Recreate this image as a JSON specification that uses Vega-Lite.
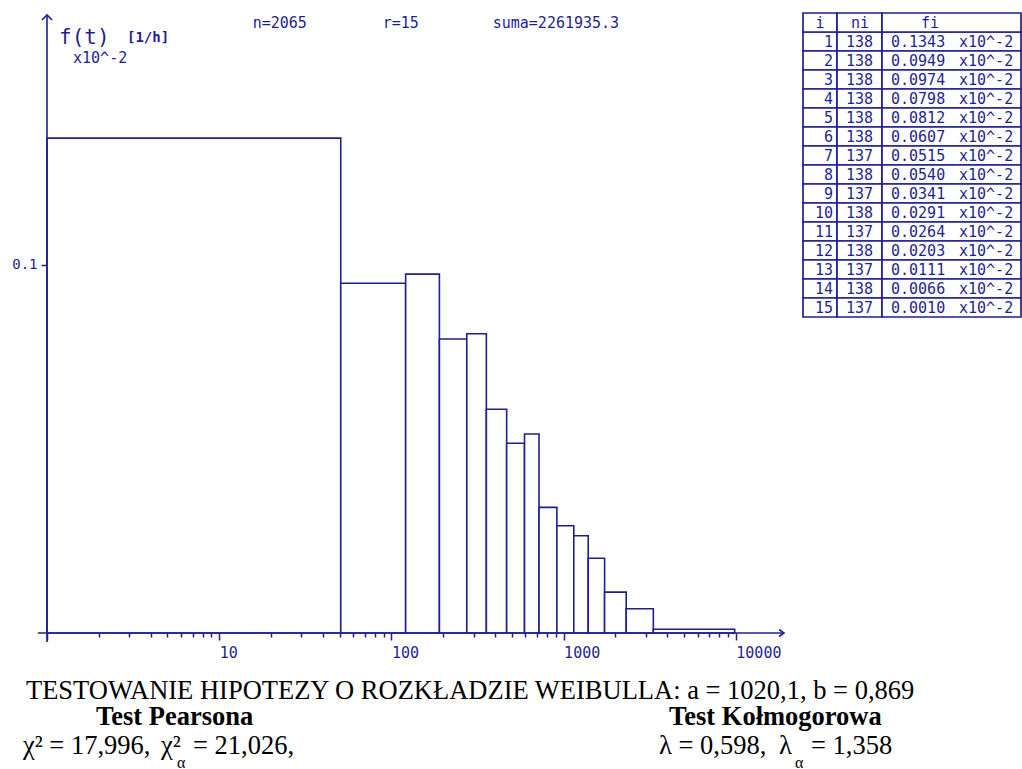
{
  "$schema": "https://vega.github.io/schema/vega-lite/v6.json",
  "background": "white",
  "padding": {"left": 11, "top": 11, "right": 0, "bottom": 0},
  "bounds": "flush",
  "spacing": 19,
  "config": {"view": {"stroke": null}},
  "datasets": {
    "bins": [
      {"i": 1, "ni": 138, "fi": 0.1343, "t0": 1, "t1": 50.8},
      {"i": 2, "ni": 138, "fi": 0.0949, "t0": 50.8, "t1": 121},
      {"i": 3, "ni": 138, "fi": 0.0974, "t0": 121, "t1": 190},
      {"i": 4, "ni": 138, "fi": 0.0798, "t0": 190, "t1": 274},
      {"i": 5, "ni": 138, "fi": 0.0812, "t0": 274, "t1": 356},
      {"i": 6, "ni": 138, "fi": 0.0607, "t0": 356, "t1": 467},
      {"i": 7, "ni": 137, "fi": 0.0515, "t0": 467, "t1": 593},
      {"i": 8, "ni": 138, "fi": 0.0540, "t0": 593, "t1": 720},
      {"i": 9, "ni": 137, "fi": 0.0341, "t0": 720, "t1": 914},
      {"i": 10, "ni": 138, "fi": 0.0291, "t0": 914, "t1": 1146},
      {"i": 11, "ni": 137, "fi": 0.0264, "t0": 1146, "t1": 1390},
      {"i": 12, "ni": 138, "fi": 0.0203, "t0": 1390, "t1": 1730},
      {"i": 13, "ni": 137, "fi": 0.0111, "t0": 1730, "t1": 2310},
      {"i": 14, "ni": 138, "fi": 0.0066, "t0": 2310, "t1": 3320},
      {"i": 15, "ni": 137, "fi": 0.0010, "t0": 3320, "t1": 9850}
    ]
  },
  "hconcat": [
    {
      "width": 737,
      "height": 620,
      "data": {"name": "bins"},
      "layer": [
        {
          "mark": {"type": "rect", "fill": "white", "stroke": "#1f1f93", "strokeWidth": 1.6},
          "encoding": {
            "x": {
              "field": "t0", "type": "quantitative",
              "scale": {"type": "log", "domain": [1, 19050], "nice": false},
              "axis": {
                "values": [1,2,3,4,5,6,7,8,9,10,20,30,40,50,60,70,80,90,100,200,300,400,500,600,700,800,900,1000,2000,3000,4000,5000,6000,7000,8000,9000,10000],
                "domain": false, "grid": false, "title": null,
                "tickColor": "#1f1f93", "tickWidth": 1.5,
                "tickSize": {"condition": {"test": "indexof([1,10,100,1000,10000], datum.value) >= 0", "value": 7}, "value": 4},
                "labelExpr": "indexof([10,100,1000,10000], datum.value) >= 0 ? format(datum.value, 'd') : ''",
                "labelAlign": "left", "labelBaseline": "top", "labelPadding": 5,
                "labelFont": "DejaVu Sans Mono", "labelFontSize": 15, "labelColor": "#1f1f93",
                "labelFlush": false, "labelOverlap": false, "labelBound": false
              }
            },
            "x2": {"field": "t1"},
            "y": {
              "field": "fi", "type": "quantitative",
              "scale": {"domain": [0, 0.16825], "nice": false, "zero": false},
              "axis": {
                "values": [0.1], "format": ".1f",
                "domain": false, "grid": false, "title": null,
                "tickColor": "#1f1f93", "tickWidth": 1.5, "tickSize": 6,
                "labelPadding": 4, "labelFont": "DejaVu Sans Mono", "labelFontSize": 14, "labelColor": "#1f1f93"
              }
            },
            "y2": {"datum": 0}
          }
        },
        {
          "data": {"values": [{}]},
          "mark": {"type": "rule", "stroke": "#1f1f93", "strokeWidth": 1.6},
          "encoding": {"x": {"datum": 0.886}, "x2": {"datum": 19050}, "y": {"datum": 0}}
        },
        {
          "data": {"values": [{}]},
          "mark": {"type": "rule", "stroke": "#1f1f93", "strokeWidth": 1.6},
          "encoding": {"x": {"datum": 1}, "y": {"datum": -0.00244}, "y2": {"datum": 0.16771}}
        },
        {
          "data": {"values": [{}]},
          "mark": {"type": "point", "shape": "M-1,1L0,0L1,1", "size": 100, "filled": false, "stroke": "#1f1f93", "strokeWidth": 1.6, "opacity": 1},
          "encoding": {"x": {"datum": 1}, "y": {"datum": 0.16771}}
        },
        {
          "data": {"values": [{}]},
          "mark": {"type": "point", "shape": "M-1,-0.7L0,0L-1,0.7", "size": 100, "filled": false, "stroke": "#1f1f93", "strokeWidth": 1.6, "opacity": 1},
          "encoding": {"x": {"datum": 19050}, "y": {"datum": 0}}
        },
        {
          "data": {"values": [{}]},
          "mark": {"type": "text", "align": "left", "baseline": "middle", "font": "DejaVu Sans Mono", "fontSize": 21, "color": "#1f1f93"},
          "encoding": {"x": {"datum": 1.174}, "y": {"datum": 0.16147}, "text": {"value": "f(t)"}}
        },
        {
          "data": {"values": [{}]},
          "mark": {"type": "text", "align": "left", "baseline": "middle", "font": "DejaVu Sans Mono", "fontSize": 14, "fontWeight": "bold", "color": "#1f1f93"},
          "encoding": {"x": {"datum": 2.914}, "y": {"datum": 0.16147}, "text": {"value": "[1/h]"}}
        },
        {
          "data": {"values": [{}]},
          "mark": {"type": "text", "align": "left", "baseline": "middle", "font": "DejaVu Sans Mono", "fontSize": 15, "color": "#1f1f93"},
          "encoding": {"x": {"datum": 1.416}, "y": {"datum": 0.15612}, "text": {"value": "x10^-2"}}
        },
        {
          "data": {"values": [{}]},
          "mark": {"type": "text", "align": "left", "baseline": "middle", "font": "DejaVu Sans Mono", "fontSize": 15, "color": "#1f1f93"},
          "encoding": {"x": {"datum": 15.65}, "y": {"datum": 0.16562}, "text": {"value": "n=2065"}}
        },
        {
          "data": {"values": [{}]},
          "mark": {"type": "text", "align": "left", "baseline": "middle", "font": "DejaVu Sans Mono", "fontSize": 15, "color": "#1f1f93"},
          "encoding": {"x": {"datum": 89.0}, "y": {"datum": 0.16562}, "text": {"value": "r=15"}}
        },
        {
          "data": {"values": [{}]},
          "mark": {"type": "text", "align": "left", "baseline": "middle", "font": "DejaVu Sans Mono", "fontSize": 15, "color": "#1f1f93"},
          "encoding": {"x": {"datum": 387.6}, "y": {"datum": 0.16562}, "text": {"value": "suma=2261935.3"}}
        },
        {
          "data": {"values": [{}]},
          "mark": {"type": "text", "align": "left", "baseline": "middle", "font": "Liberation Serif", "fontSize": 26.5, "color": "black"},
          "encoding": {"x": {"datum": 0.755}, "y": {"datum": -0.01574}, "text": {"value": "TESTOWANIE HIPOTEZY O ROZKŁADZIE WEIBULLA: a = 1020,1, b = 0,869"}}
        },
        {
          "data": {"values": [{}]},
          "mark": {"type": "text", "align": "left", "baseline": "middle", "font": "Liberation Serif", "fontSize": 26.5, "fontWeight": "bold", "color": "black"},
          "encoding": {"x": {"datum": 1.926}, "y": {"datum": -0.0228}, "text": {"value": "Test Pearsona"}}
        },
        {
          "data": {"values": [{}]},
          "mark": {"type": "text", "align": "left", "baseline": "middle", "font": "Liberation Serif", "fontSize": 26.5, "fontWeight": "bold", "color": "black"},
          "encoding": {"x": {"datum": 4093}, "y": {"datum": -0.0228}, "text": {"value": "Test Kołmogorowa"}}
        },
        {
          "data": {"values": [{}]},
          "mark": {"type": "text", "align": "left", "baseline": "middle", "font": "Liberation Serif", "fontSize": 26.5, "color": "black"},
          "encoding": {"x": {"datum": 0.7256}, "y": {"datum": -0.03066}, "text": {"value": "χ² = 17,996,"}}
        },
        {
          "data": {"values": [{}]},
          "mark": {"type": "text", "align": "left", "baseline": "middle", "font": "Liberation Serif", "fontSize": 26.5, "color": "black"},
          "encoding": {"x": {"datum": 4.592}, "y": {"datum": -0.03066}, "text": {"value": "χ²"}}
        },
        {
          "data": {"values": [{}]},
          "mark": {"type": "text", "align": "left", "baseline": "middle", "font": "Liberation Serif", "fontSize": 16, "color": "black"},
          "encoding": {"x": {"datum": 5.69}, "y": {"datum": -0.03528}, "text": {"value": "α"}}
        },
        {
          "data": {"values": [{}]},
          "mark": {"type": "text", "align": "left", "baseline": "middle", "font": "Liberation Serif", "fontSize": 26.5, "color": "black"},
          "encoding": {"x": {"datum": 7.046}, "y": {"datum": -0.03066}, "text": {"value": "= 21,026,"}}
        },
        {
          "data": {"values": [{}]},
          "mark": {"type": "text", "align": "left", "baseline": "middle", "font": "Liberation Serif", "fontSize": 26.5, "color": "black"},
          "encoding": {"x": {"datum": 3581}, "y": {"datum": -0.03066}, "text": {"value": "λ = 0,598,"}}
        },
        {
          "data": {"values": [{}]},
          "mark": {"type": "text", "align": "left", "baseline": "middle", "font": "Liberation Serif", "fontSize": 26.5, "color": "black"},
          "encoding": {"x": {"datum": 17820}, "y": {"datum": -0.03066}, "text": {"value": "λ"}}
        },
        {
          "data": {"values": [{}]},
          "mark": {"type": "text", "align": "left", "baseline": "middle", "font": "Liberation Serif", "fontSize": 16, "color": "black"},
          "encoding": {"x": {"datum": 22070}, "y": {"datum": -0.03528}, "text": {"value": "α"}}
        },
        {
          "data": {"values": [{}]},
          "mark": {"type": "text", "align": "left", "baseline": "middle", "font": "Liberation Serif", "fontSize": 26.5, "color": "black"},
          "encoding": {"x": {"datum": 27340}, "y": {"datum": -0.03066}, "text": {"value": "= 1,358"}}
        }
      ]
    },
    {
      "width": 218,
      "height": 304,
      "encoding": {
        "y": {
          "field": "i", "type": "ordinal",
          "scale": {"domain": [0,1,2,3,4,5,6,7,8,9,10,11,12,13,14,15], "paddingInner": 0, "paddingOuter": 0},
          "axis": null
        }
      },
      "layer": [
        {
          "data": {"name": "bins"},
          "layer": [
            {
              "mark": {"type": "rect", "fill": "white", "stroke": "#1f1f93", "strokeWidth": 1.7},
              "encoding": {"x": {"datum": 0, "type": "quantitative", "scale": {"domain": [0, 218], "nice": false, "zero": false}, "axis": null}, "x2": {"datum": 34}}
            },
            {
              "mark": {"type": "rect", "fill": "white", "stroke": "#1f1f93", "strokeWidth": 1.7},
              "encoding": {"x": {"datum": 34, "type": "quantitative"}, "x2": {"datum": 79}}
            },
            {
              "mark": {"type": "rect", "fill": "white", "stroke": "#1f1f93", "strokeWidth": 1.7},
              "encoding": {"x": {"datum": 79, "type": "quantitative"}, "x2": {"datum": 218}}
            },
            {
              "mark": {"type": "text", "align": "right", "baseline": "middle", "font": "DejaVu Sans Mono", "fontSize": 15, "color": "#1f1f93"},
              "encoding": {"x": {"datum": 30, "type": "quantitative"}, "text": {"field": "i", "type": "quantitative"}}
            },
            {
              "mark": {"type": "text", "align": "center", "baseline": "middle", "font": "DejaVu Sans Mono", "fontSize": 15, "color": "#1f1f93"},
              "encoding": {"x": {"datum": 56.5, "type": "quantitative"}, "text": {"field": "ni", "type": "quantitative"}}
            },
            {
              "mark": {"type": "text", "align": "left", "baseline": "middle", "font": "DejaVu Sans Mono", "fontSize": 15, "color": "#1f1f93"},
              "encoding": {"x": {"datum": 88, "type": "quantitative"}, "text": {"field": "fi", "type": "quantitative", "format": ".4f"}}
            },
            {
              "mark": {"type": "text", "align": "left", "baseline": "middle", "font": "DejaVu Sans Mono", "fontSize": 15, "color": "#1f1f93"},
              "encoding": {"x": {"datum": 156, "type": "quantitative"}, "text": {"value": "x10^-2"}}
            }
          ]
        },
        {
          "data": {"values": [{"i": 0}]},
          "layer": [
            {
              "mark": {"type": "rect", "fill": "white", "stroke": "#1f1f93", "strokeWidth": 1.7},
              "encoding": {"x": {"datum": 0, "type": "quantitative"}, "x2": {"datum": 34}}
            },
            {
              "mark": {"type": "rect", "fill": "white", "stroke": "#1f1f93", "strokeWidth": 1.7},
              "encoding": {"x": {"datum": 34, "type": "quantitative"}, "x2": {"datum": 79}}
            },
            {
              "mark": {"type": "rect", "fill": "white", "stroke": "#1f1f93", "strokeWidth": 1.7},
              "encoding": {"x": {"datum": 79, "type": "quantitative"}, "x2": {"datum": 218}}
            },
            {
              "mark": {"type": "text", "align": "center", "baseline": "middle", "font": "DejaVu Sans Mono", "fontSize": 15, "color": "#1f1f93"},
              "encoding": {"x": {"datum": 17, "type": "quantitative"}, "text": {"value": "i"}}
            },
            {
              "mark": {"type": "text", "align": "center", "baseline": "middle", "font": "DejaVu Sans Mono", "fontSize": 15, "color": "#1f1f93"},
              "encoding": {"x": {"datum": 57, "type": "quantitative"}, "text": {"value": "ni"}}
            },
            {
              "mark": {"type": "text", "align": "center", "baseline": "middle", "font": "DejaVu Sans Mono", "fontSize": 15, "color": "#1f1f93"},
              "encoding": {"x": {"datum": 127, "type": "quantitative"}, "text": {"value": "fi"}}
            }
          ]
        }
      ]
    }
  ]
}
